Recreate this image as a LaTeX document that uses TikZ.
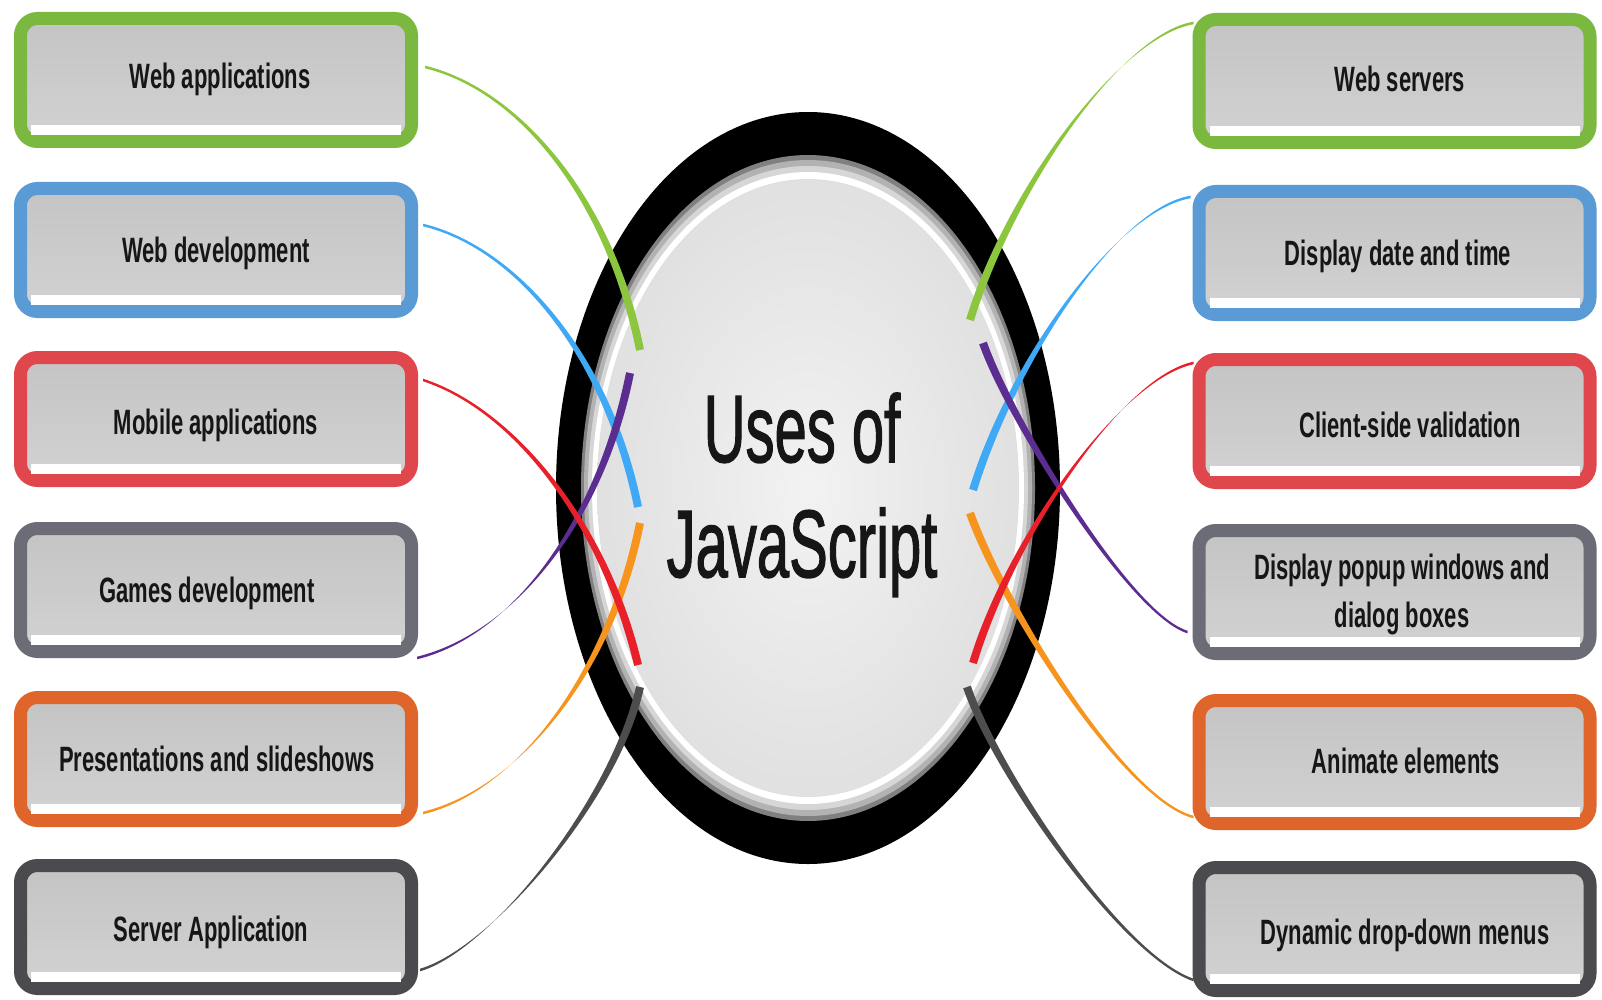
\documentclass[tikz,border=0pt]{standalone}
\usepackage{fontspec}
\setmainfont{Liberation Sans}
\newfontfamily\jstitlefont[FakeBold=1.6]{Liberation Sans}
\usetikzlibrary{calc,shapes.geometric}
\definecolor{cgreen}{HTML}{7AB840}
\definecolor{cblue}{HTML}{5B9BD5}
\definecolor{cred}{HTML}{E0474C}
\definecolor{cgray}{HTML}{6B6C75}
\definecolor{corange}{HTML}{E0652A}
\definecolor{cdark}{HTML}{4A4A4F}
\definecolor{lgreen}{HTML}{8CC63F}
\definecolor{lblue}{HTML}{3FA9F5}
\definecolor{lred}{HTML}{E8202A}
\definecolor{lpurple}{HTML}{5C2D91}
\definecolor{lorange}{HTML}{F7941D}
\definecolor{ldark}{HTML}{4D4D4D}
\definecolor{boxtop}{HTML}{C4C4C4}
\definecolor{boxbot}{HTML}{D2D2D2}
\definecolor{txt}{HTML}{161616}
\newcommand\tall[1]{\scalebox{1}[1.6]{#1}}
\newcommand\jsstrip[1]{\fill[white] ($(#1.south west)+(17,-13)$) rectangle ($(#1.south east)+(-17,-23)$);}
% tapered connector: #1 colour, #2 start, #3 control offset from start, #4 control offset from end, #5 end, #6 half-width at end
\newcommand\jslink[6]{%
  \fill[#1] ($(#2)+(0,-1.3)$)
    .. controls ($(#2)+#3+(0,-1.3)$) and ($(#5)+#4+#6$) .. ($(#5)+#6$)
    -- ($(#5)-#6$)
    .. controls ($(#5)+#4-#6$) and ($(#2)+#3+(0,1.3)$) .. ($(#2)+(0,1.3)$) -- cycle;}
\begin{document}
\begin{tikzpicture}[x=1pt,y=-1pt,
  jsframe/.style={draw=#1, rounded corners=17, line width=13, minimum width=391,
    minimum height=123, inner sep=0, top color=boxtop, bottom color=boxbot},
  jstext/.style={font=\fontsize{22}{26}\selectfont\bfseries, text=txt, inner sep=0, anchor=base},
  jstitle/.style={font=\jstitlefont\fontsize{58}{60}\selectfont, text=txt, inner sep=0, anchor=base}]
\useasboundingbox (0,0) rectangle (1602,1000);
\fill[white] (0,0) rectangle (1602,1000);

% boxes
\node[jsframe=cgreen]  (L1) at (216,80)  {};
\node[jsframe=cblue]   (L2) at (216,250) {};
\node[jsframe=cred]    (L3) at (216,419) {};
\node[jsframe=cgray]   (L4) at (216,590) {};
\node[jsframe=corange] (L5) at (216,759) {};
\node[jsframe=cdark]   (L6) at (216,927) {};
\node[jsframe=cgreen]  (R1) at (1394.5,81)  {};
\node[jsframe=cblue]   (R2) at (1394.5,253) {};
\node[jsframe=cred]    (R3) at (1394.5,421) {};
\node[jsframe=cgray]   (R4) at (1394.5,592) {};
\node[jsframe=corange] (R5) at (1394.5,762) {};
\node[jsframe=cdark]   (R6) at (1394.5,929) {};
\foreach \b in {L1,L2,L3,L4,L5,L6,R1,R2,R3,R4,R5,R6} {\jsstrip{\b}}

% texts
\node[jstext] (TL1) at (220,89)    {\tall{Web applications}};
\node[jstext] (TL2) at (216,262.5) {\tall{Web development}};
\node[jstext] (TL3) at (216,434.5) {\tall{Mobile applications}};
\node[jstext] (TL4) at (207,602)   {\tall{Games development}};
\node[jstext] (TL5) at (217,771.5) {\tall{Presentations and slideshows}};
\node[jstext] (TL6) at (211,941.5) {\tall{Server Application}};
\node[jstext] (TR1) at (1400,91.5)  {\tall{Web servers}};
\node[jstext] (TR2) at (1398,265.5) {\tall{Display date and time}};
\node[jstext] (TR3) at (1410,437.5) {\tall{Client-side validation}};
\node[jstext] (TR4a) at (1402,579.5) {\tall{Display popup windows and}};
\node[jstext] (TR4b) at (1402,627.5) {\tall{dialog boxes}};
\node[jstext] (TR5) at (1406,773.5) {\tall{Animate elements}};
\node[jstext] (TR6) at (1405,944.5) {\tall{Dynamic drop-down menus}};

% central disc
\node[ellipse, fill=black, minimum width=504, minimum height=752, inner sep=0] (C) at (808,488) {};
\fill[black!50] (C.center) ellipse (227 and 333);
\fill[black!30] (C.center) ellipse (224 and 328);
\fill[black!16] (C.center) ellipse (220 and 322);
\fill[white] (C.center) ellipse (216 and 316);
\shade[inner color=black!5, outer color=black!12] (C.center) ellipse (211 and 309);
\node[jstitle] (T1) at (802,462) {\scalebox{1}[1.65]{Uses of}};
\node[jstitle] (T2) at (802,577) {\scalebox{1}[1.65]{JavaScript}};

% connector end points
\coordinate (sL1) at ($(L1.east)+(7,-13)$);
\coordinate (sL2) at ($(L2.east)+(5,-25)$);
\coordinate (sL3) at ($(L3.east)+(5,-39)$);
\coordinate (sL4) at ($(L4.east)+(-1,68)$);
\coordinate (sL5) at ($(L5.east)+(5,54)$);
\coordinate (sL6) at ($(L6.east)+(2,43)$);
\coordinate (sR1) at ($(R1.west)+(1,-58)$);
\coordinate (sR2) at ($(R2.west)+(-2,-56)$);
\coordinate (sR3) at ($(R3.west)+(1,-58)$);
\coordinate (sR4) at ($(R4.west)+(-5,40)$);
\coordinate (sR5) at ($(R5.west)+(1,55)$);
\coordinate (sR6) at ($(R6.west)+(1,51)$);
\coordinate (eL1) at ($(C.center)+(-168,-138)$);
\coordinate (eL2) at ($(C.center)+(-170,19)$);
\coordinate (eL3) at ($(C.center)+(-170,177)$);
\coordinate (eL4) at ($(C.center)+(-178,-115)$);
\coordinate (eL5) at ($(C.center)+(-168,35)$);
\coordinate (eL6) at ($(C.center)+(-168,199)$);
\coordinate (eR1) at ($(C.center)+(162,-168)$);
\coordinate (eR2) at ($(C.center)+(165,2)$);
\coordinate (eR3) at ($(C.center)+(165,175)$);
\coordinate (eR4) at ($(C.center)+(175,-145)$);
\coordinate (eR5) at ($(C.center)+(162,25)$);
\coordinate (eR6) at ($(C.center)+(159,199)$);

% left connectors
\jslink{lgreen}{sL1}{(95,23)}{(-30,-150)}{eL1}{(3.9,-0.8)}
\jslink{lblue}{sL2}{(95,23)}{(-30,-149)}{eL2}{(3.9,-0.8)}
\jslink{ldark}{sL6}{(70,-20)}{(-25,113)}{eL6}{(3.9,0.9)}
\jslink{lorange}{sL5}{(95,-23)}{(-30,150)}{eL5}{(3.9,0.8)}
\jslink{lpurple}{sL4}{(95,-23)}{(-30,150)}{eL4}{(3.9,0.8)}
\jslink{lred}{sL3}{(92,30)}{(-33,-140)}{eL3}{(3.9,-0.9)}
% right connectors
\jslink{lgreen}{sR1}{(-73,12)}{(40,-130)}{eR1}{(3.8,1.2)}
\jslink{lblue}{sR2}{(-73,12)}{(40,-130)}{eR2}{(3.8,1.2)}
\jslink{ldark}{sR6}{(-73,-25)}{(28,83)}{eR6}{(3.8,-1.3)}
\jslink{lorange}{sR5}{(-68,-17)}{(35,97)}{eR5}{(3.8,-1.4)}
\jslink{lpurple}{sR4}{(-57,-17)}{(27,77)}{eR4}{(3.8,-1.3)}
\jslink{lred}{sR3}{(-73,15)}{(37,-123)}{eR3}{(3.8,1.1)}
\end{tikzpicture}
\end{document}
